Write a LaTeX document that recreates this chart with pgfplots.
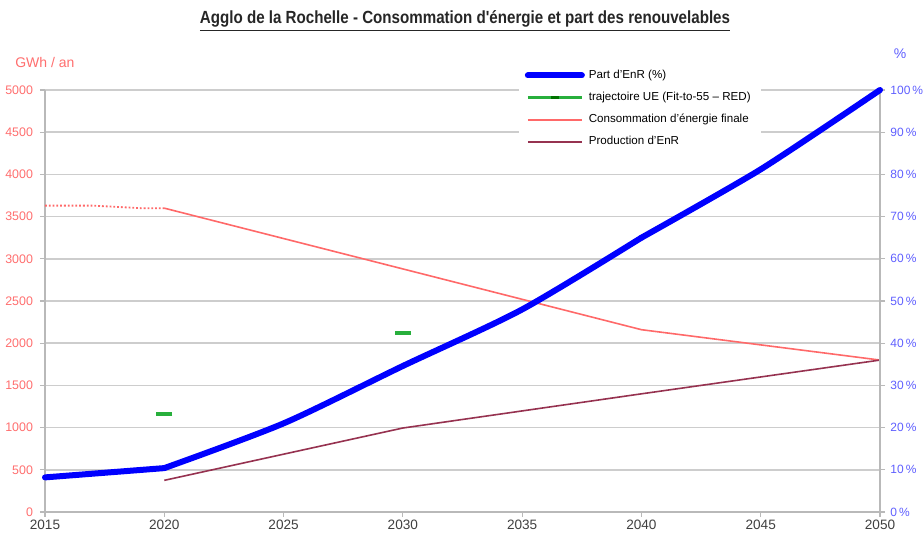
\documentclass[border=0pt]{standalone}
\usepackage{pgfplots}
\pgfplotsset{compat=1.18}
\usepackage{fontspec}
\setmainfont{Liberation Sans}
\newfontfamily\titlefont[FakeStretch=0.86]{Liberation Sans}
\definecolor{salmon}{RGB}{255,105,105}
\definecolor{salmontext}{RGB}{255,110,110}
\definecolor{bluetext}{RGB}{95,95,255}
\definecolor{enrblue}{RGB}{0,0,255}
\definecolor{ueGreen}{RGB}{40,175,60}
\definecolor{enrmaroon}{RGB}{150,50,80}
\definecolor{gridgray}{RGB}{205,205,205}
\definecolor{axisgray}{RGB}{185,185,185}
\begin{document}
\begin{tikzpicture}
\begin{axis}[
 scale only axis, width=417.5pt, height=211pt,
 xmin=2015, xmax=2050, ymin=0, ymax=5000,
 xtick={2015,2020,...,2050}, ytick={0,500,...,5000},
 axis x line*=bottom, axis y line*=left,
 axis line style={axisgray, line width=0.8pt, -},
 ymajorgrids, grid style={gridgray, line width=0.8pt},
 tick style={axisgray, line width=0.6pt},
 tick align=outside, major tick length=2.5pt,
 xticklabel style={font=\fontsize{6.8}{7}\selectfont, text=black!75, yshift=2.2pt},
 yticklabel style={font=\fontsize{6.2}{7}\selectfont, text=salmontext},
 /pgf/number format/set thousands separator={},
 /pgf/number format/assume math mode=true,
 clip=false,
]
\addplot[salmon, line width=0.9pt, densely dotted] coordinates {(2015,3630) (2017,3630) (2019,3600) (2020,3600)};
\addplot[salmon, line width=0.8pt] coordinates {(2020,3600) (2040,2160) (2050,1800)};
\addplot[enrmaroon, line width=0.8pt] coordinates {(2020,375) (2030,995) (2040,1400) (2050,1800)};
\node[anchor=west, text=salmontext, font=\fontsize{7}{8}\selectfont] at (rel axis cs:-0.044,1.066) {GWh / an};
\node[anchor=west, text=bluetext, font=\fontsize{7}{8}\selectfont] at (rel axis cs:1.008,1.085) {\%};
\node[font=\titlefont\bfseries\fontsize{8.8}{10}\selectfont, text=black!85] at (rel axis cs:0.503,1.163) {\underline{Agglo de la Rochelle - Consommation d'énergie et part des renouvelables}};
\end{axis}
\begin{axis}[
 scale only axis, width=417.5pt, height=211pt,
 xmin=2015, xmax=2050, ymin=0, ymax=100,
 axis x line=none, axis y line*=right,
 axis line style={axisgray, line width=0.8pt, -},
 ytick={0,10,...,100},
 tick style={axisgray, line width=0.6pt},
 tick align=outside, major tick length=2.5pt,
 yticklabel={\pgfmathprintnumber{\tick}\,\%},
 yticklabel style={font=\fontsize{6}{7}\selectfont, text=bluetext, xshift=-0.8pt},
 /pgf/number format/assume math mode=true,
 clip=false,
 legend cell align=left,
 legend style={at={(rel axis cs:0.567,1.068)}, anchor=north west, draw=none, fill=white,
   font=\fontsize{5.8}{6.5}\selectfont, row sep=1.4pt, inner xsep=3pt, inner ysep=2pt},
 legend image code/.code={\draw[#1] (0pt,0pt) -- (27pt,0pt);},
]
\addplot[enrblue, line width=3pt, line join=round, line cap=round] coordinates {(2015,8.2) (2020,10.4)};
\addlegendentry{Part d'EnR (\%)}
\addplot[enrblue, line width=3pt, line join=round, line cap=round, smooth, tension=0.45, forget plot] coordinates {(2020,10.4) (2025,21) (2030,34.6) (2035,48) (2040,65)};
\addplot[enrblue, line width=3pt, line join=round, line cap=round, smooth, tension=0.4, forget plot] coordinates {(2040,65) (2045,81.2) (2050,100)};
\addplot[only marks, mark=-, mark size=4pt, mark options={ueGreen, line width=1.8pt}, forget plot] coordinates {(2020,23.2) (2030,42.4)};
\addlegendimage{legend image code/.code={\draw[ueGreen, line width=1.2pt] (0pt,0pt) -- (27pt,0pt); \draw[green!45!black, line width=1.2pt] (11.5pt,0pt) -- (15.5pt,0pt);}}
\addlegendentry{trajectoire UE (Fit-to-55 – RED)}
\addlegendimage{salmon, line width=0.8pt}
\addlegendentry{Consommation d'énergie finale}
\addlegendimage{enrmaroon, line width=0.9pt}
\addlegendentry{Production d'EnR}
\end{axis}
\pgfresetboundingbox
\useasboundingbox (-22.5pt,-10.5pt) rectangle (439.5pt,256pt);
\end{tikzpicture}
\end{document}
